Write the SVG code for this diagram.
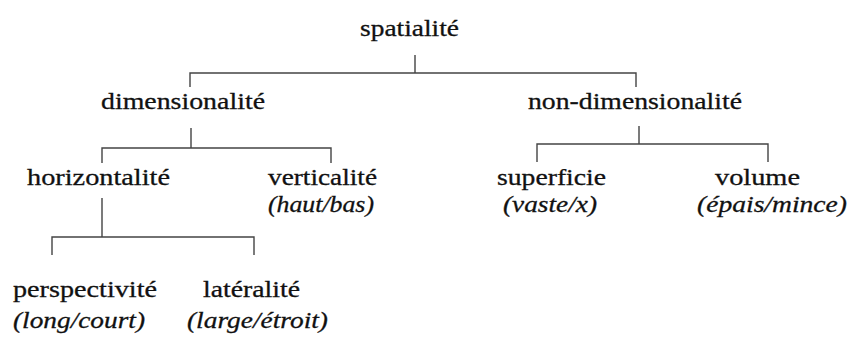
<svg xmlns="http://www.w3.org/2000/svg" width="851" height="338" viewBox="0 0 851 338">
<style>
text{font-family:'Liberation Serif',Tinos,'Times New Roman',Times,serif;font-size:24px;fill:#111;stroke:#111;stroke-width:0.3}
.i{font-style:italic}
.c{stroke:#444;stroke-width:1.4;fill:none}
</style>
<rect width="851" height="338" fill="#fff"/>
<g id="connectors">
<path class="c" d="M415 55V73M190 87V73H636V87"/>
<path class="c" d="M191 128V148M102 163V148H331V163"/>
<path class="c" d="M639 126V144M537 162V144H768V162"/>
<path class="c" d="M102 198V237M52 255V237H254V255"/>
</g>
<g id="spatialite"><text x="360" y="36" textLength="99" lengthAdjust="spacingAndGlyphs">spatialité</text></g>
<g id="dimensionalite"><text x="101" y="109" textLength="164" lengthAdjust="spacingAndGlyphs">dimensionalité</text></g>
<g id="non-dimensionalite"><text x="528" y="109" textLength="214" lengthAdjust="spacingAndGlyphs">non-dimensionalité</text></g>
<g id="horizontalite"><text x="27" y="185" textLength="143" lengthAdjust="spacingAndGlyphs">horizontalité</text></g>
<g id="verticalite"><text x="268" y="185" textLength="109" lengthAdjust="spacingAndGlyphs">verticalité</text><text class="i" x="268" y="212" textLength="106" lengthAdjust="spacingAndGlyphs">(haut/bas)</text></g>
<g id="superficie"><text x="497" y="185" textLength="109" lengthAdjust="spacingAndGlyphs">superficie</text><text class="i" x="503" y="212" textLength="94" lengthAdjust="spacingAndGlyphs">(vaste/x)</text></g>
<g id="volume"><text x="715" y="185" textLength="85" lengthAdjust="spacingAndGlyphs">volume</text><text class="i" x="697" y="212" textLength="150" lengthAdjust="spacingAndGlyphs">(épais/mince)</text></g>
<g id="perspectivite"><text x="13" y="297" textLength="144" lengthAdjust="spacingAndGlyphs">perspectivité</text><text class="i" x="13" y="328" textLength="132" lengthAdjust="spacingAndGlyphs">(long/court)</text></g>
<g id="lateralite"><text x="203" y="297" textLength="97" lengthAdjust="spacingAndGlyphs">latéralité</text><text class="i" x="187" y="328" textLength="141" lengthAdjust="spacingAndGlyphs">(large/étroit)</text></g>
</svg>
